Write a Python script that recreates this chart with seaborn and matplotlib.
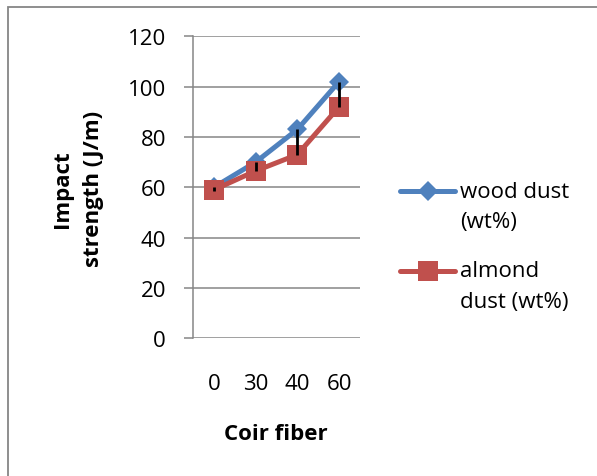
import numpy as np
import pandas as pd
import matplotlib
matplotlib.use("Agg")
import matplotlib.pyplot as plt
from matplotlib.lines import Line2D
from matplotlib.patches import Rectangle
import seaborn as sns


coir_fiber = ["0", "30", "40", "60"]
wood_dust = [60, 70, 83, 102]
almond_dust = [59, 66.5, 73, 92]
wood_err_minus = [1.5, 3.5, 10, 10]
series_names = ["wood dust\n(wt%)", "almond\ndust (wt%)"]

BLUE = "#4F81BD"
RED = "#C0504D"
GRID = "#868686"


def main():
    sns.set_style("white")
    plt.rcParams["font.family"] = ["Open Sans", "DejaVu Sans"]
    plt.rcParams["text.color"] = "black"
    plt.rcParams["xtick.color"] = "black"
    plt.rcParams["ytick.color"] = "black"

    df = pd.DataFrame({
        "coir": coir_fiber * 2,
        "strength": wood_dust + almond_dust,
        "series": [series_names[0]] * 4 + [series_names[1]] * 4,
    })

    fig = plt.figure(figsize=(5.97, 4.77), dpi=100)
    ax = fig.add_axes([193 / 597, 1 - 339.3 / 477, 167 / 597, 302 / 477])

    sns.lineplot(data=df, x="coir", y="strength", hue="series", style="series",
                 palette=[BLUE, RED], markers=["D", "s"], dashes=False,
                 linewidth=3.6, markersize=10.5, markeredgewidth=0, ax=ax,
                 legend=False, sort=False)
    # square marker is bigger than the diamond
    ax.lines[1].set_markersize(14)

    ax.errorbar(np.arange(len(coir_fiber)), wood_dust,
                yerr=[wood_err_minus, np.zeros(len(wood_err_minus))],
                fmt="none", ecolor="black", elinewidth=2, capsize=0, zorder=5)

    ax.set_xlim(-0.5, len(coir_fiber) - 0.5)
    ax.set_ylim(0, 120)
    ax.set_yticks(range(0, 121, 20))
    ax.yaxis.grid(True, color=GRID, linewidth=1.1)
    ax.set_axisbelow(True)
    for s in ["top", "right", "bottom"]:
        ax.spines[s].set_visible(False)
    ax.spines["left"].set_color(GRID)
    ax.spines["left"].set_linewidth(1.1)
    ax.tick_params(axis="y", length=6.5, width=1.1, color=GRID, pad=13,
                   labelsize=16, left=True, labelcolor="black")
    ax.tick_params(axis="x", length=0, pad=25, labelsize=16, labelcolor="black")
    ax.set_xlabel("")
    ax.set_ylabel("")

    fig.text(78 / 597, 1 - 189 / 477, "Impact\nstrength (J/m)", rotation=90,
             ha="center", va="center", multialignment="center",
             fontsize=16, fontweight="bold", linespacing=1.6)
    fig.text(276 / 597, 1 - 435 / 477, "Coir fiber", ha="center", va="center",
             fontsize=16, fontweight="bold")

    # legend drawn by hand so the key sits on the first text line
    legend_rows = [(192, BLUE, "D", 10.5), (272, RED, "s", 14)]
    for (y, color, marker, msize), name in zip(legend_rows, series_names):
        fy = 1 - y / 477
        fig.add_artist(Line2D([400 / 597, 455 / 597], [fy, fy],
                              transform=fig.transFigure, color=color,
                              linewidth=3.6, solid_capstyle="round"))
        fig.add_artist(Line2D([427.5 / 597], [fy], transform=fig.transFigure,
                              color=color, marker=marker, markersize=msize,
                              markeredgewidth=0, linestyle="none"))
        for i, line in enumerate(name.split("\n")):
            fig.text(460 / 597, 1 - (y + 30.5 * i) / 477, line,
                     ha="left", va="center", fontsize=16)

    fig.patches.append(Rectangle((8 / 597, -0.1), 1.2, 1 - 8 / 477 + 0.1,
                                 transform=fig.transFigure, fill=False,
                                 edgecolor=GRID, linewidth=1.3))

    fig.savefig("out.png", dpi=100)
    plt.close(fig)


if __name__ == "__main__":
    main()
